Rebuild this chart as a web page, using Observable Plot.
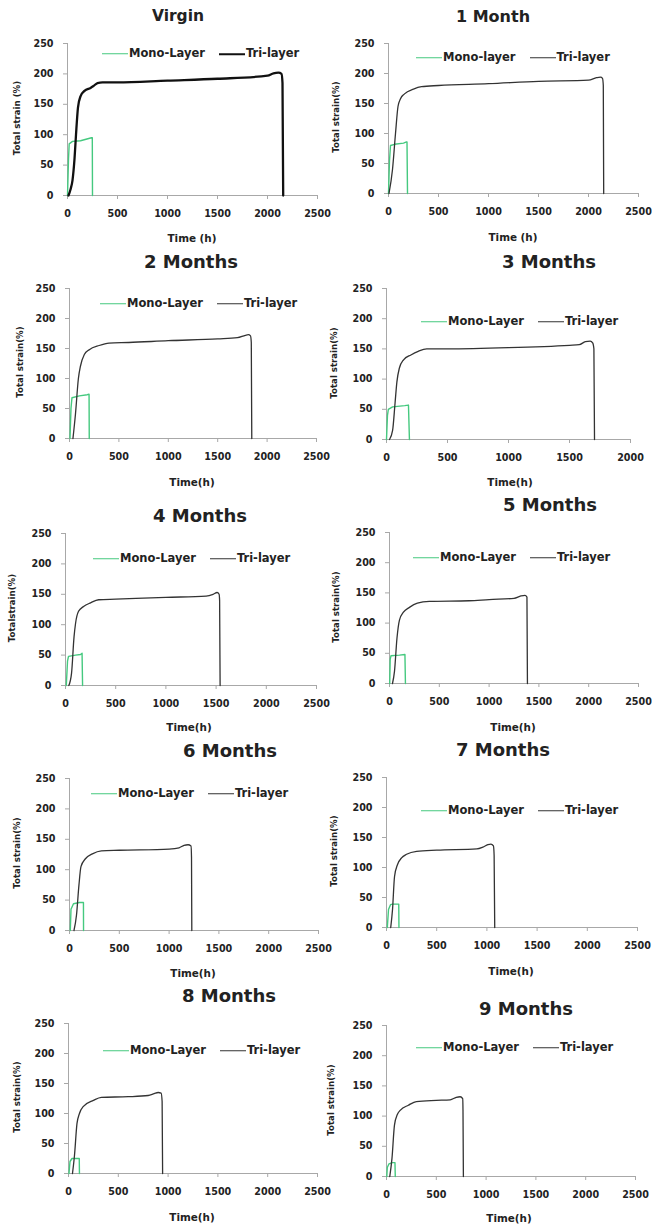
<!DOCTYPE html>
<html>
<head>
<meta charset="utf-8">
<script src="https://cdn.jsdelivr.net/npm/d3@7"></script>
<script src="https://cdn.jsdelivr.net/npm/@observablehq/plot@0.6"></script>
<style>
  body { margin: 0; background: #fff; }
  #chart { position: relative; width: 652px; height: 1224px; overflow: hidden;
           font-family: "DejaVu Sans", sans-serif; color: #222; }
  .panel { position: absolute; }
  .panel svg { background: transparent; overflow: visible; }
  .txt { position: absolute; white-space: nowrap; font-weight: bold; line-height: 1;
         transform: translate(-50%, -50%); }
  .ylab { position: absolute; white-space: nowrap; font-weight: bold; line-height: 1;
          transform: translate(-50%, -50%) rotate(-90deg); font-size: 8.6px; }
  .legend { position: absolute; display: flex; align-items: center; white-space: nowrap;
            font-weight: bold; font-size: 11.5px; transform: translateY(-50%); line-height: 1; }
  .legend .sw { display: inline-block; width: 26px; height: 0; margin-right: 1px; }
  .legend .gap { display: inline-block; width: 14px; }
</style>
</head>
<body>
<div id="chart"></div>
<script>
// Creep curves: total strain (%) against time (h), mono-layer vs tri-layer, by ageing time.
const panelTitles = ["Virgin", "1 Month", "2 Months", "3 Months", "4 Months",
                     "5 Months", "6 Months", "7 Months", "8 Months", "9 Months"];
const monoNames = ["Mono-Layer", "Mono-layer", "Mono-Layer", "Mono-Layer", "Mono-Layer",
                   "Mono-Layer", "Mono-Layer", "Mono-Layer", "Mono-Layer", "Mono-Layer"];
const triName = "Tri-layer";
const xTitles = ["Time (h)", "Time (h)", "Time(h)", "Time(h)", "Time(h)",
                 "Time(h)", "Time(h)", "Time(h)", "Time(h)", "Time(h)"];
const yTitles = ["Total strain (%)", "Total strain(%)", "Total strain(%)", "Total strain(%)", "Totalstrain(%)",
                 "Total strain(%)", "Total strain(%)", "Total strain(%)", "Total strain(%)", "Total strain(%)"];
const xMaxes = [2500, 2500, 2500, 2000, 2500, 2500, 2500, 2500, 2500, 2500];
const yTicks = [0, 50, 100, 150, 200, 250];
const xTicksLong = [0, 500, 1000, 1500, 2000, 2500];
const xTicksShort = [0, 500, 1000, 1500, 2000];

// [time (h), total strain (%)]
const virginMono = [[0,0],[10,60],[17,85],[50,89],[130,90],[240,95],[248,95],[250,0]];
const virginTri = [[10,0],[30,10],[50,25],[70,60],[85,100],[105,145],[130,163],[170,172],[230,177],
  [260,180],[300,185],[350,186],[500,186],[1000,189],[1500,192],[2000,197],[2060,201],[2110,202],
  [2140,200],[2150,185],[2157,0]];
const m1Mono = [[0,0],[10,55],[20,80],[60,82],[150,84],[180,86],[185,86],[190,0]];
const m1Tri = [[5,0],[40,40],[70,100],[95,145],[120,158],[160,166],[250,174],[330,178],[500,180],
  [1000,183],[1500,187],[2000,189],[2080,193],[2120,194],[2140,192],[2148,180],[2152,0]];
const m2Mono = [[5,0],[15,50],[25,68],[100,71],[180,73],[198,74],[200,0]];
const m2Tri = [[35,0],[60,40],[90,100],[110,120],[150,140],[200,148],[300,155],[400,159],[600,160],
  [1000,163],[1500,166],[1700,168],[1780,172],[1810,173],[1832,171],[1840,160],[1845,0]];
const m3Mono = [[0,0],[8,40],[15,50],[50,54],[150,56],[180,57],[188,0]];
const m3Tri = [[25,0],[50,15],[70,60],[85,95],[105,118],[140,132],[200,140],[260,146],[330,150],
  [500,150],[1000,152],[1500,156],[1580,157],[1630,162],[1670,163],[1690,160],[1700,150],[1705,0]];
const m4Mono = [[8,0],[20,40],[30,48],[100,50],[150,51],[165,53],[170,0]];
const m4Tri = [[33,0],[60,20],[85,80],[100,102],[130,122],[180,130],[250,136],[330,141],[500,142],
  [1000,145],[1400,147],[1470,150],[1510,153],[1530,150],[1535,140],[1540,0]];
const m5Mono = [[2,0],[7,40],[15,46],[100,47],[155,48],[160,0]];
const m5Tri = [[30,0],[50,20],[75,75],[100,105],[140,118],[200,126],[280,133],[400,136],[800,137],
  [1000,139],[1250,141],[1320,145],[1360,146],[1380,143],[1385,0]];
const m6Mono = [[8,0],[15,35],[40,44],[100,46],[140,46],[141,0]];
const m6Tri = [[45,0],[70,25],[95,75],[115,105],[160,118],[230,126],[320,131],[500,132],[1000,134],
  [1100,136],[1150,140],[1190,141],[1220,139],[1225,120],[1228,0]];
const m7Mono = [[8,0],[20,30],[40,38],[60,39],[122,39],[124,0]];
const m7Tri = [[42,0],[60,30],[80,85],[110,105],[150,116],[200,122],[300,127],[500,129],[900,131],
  [960,134],[1010,138],[1040,139],[1065,136],[1072,120],[1078,0]];
const m8Mono = [[5,0],[15,20],[35,25],[80,25],[108,25],[110,0]];
const m8Tri = [[40,0],[60,30],[85,83],[110,100],[150,112],[250,122],[330,127],[600,128],[800,130],
  [860,133],[900,135],[930,134],[940,120],[945,0]];
const m9Mono = [[3,0],[8,15],[25,21],[60,23],[85,23],[88,0]];
const m9Tri = [[33,0],[55,30],[80,85],[110,103],[140,110],[220,118],[300,124],[500,126],[640,127],
  [700,131],[740,132],[765,129],[768,110],[772,0]];

const monoSeries = [virginMono, m1Mono, m2Mono, m3Mono, m4Mono, m5Mono, m6Mono, m7Mono, m8Mono, m9Mono];
const triSeries = [virginTri, m1Tri, m2Tri, m3Tri, m4Tri, m5Tri, m6Tri, m7Tri, m8Tri, m9Tri];

const GREEN = "#45c97f";
const AXIS = "#a8a8a8";
const W = 326, H = 245;

// Page layout of each panel: frame edges (x at 0 and at the max, y at 0 and 250),
// title centre, x-title centre, y-title x, legend start.
const frames = [
  {x0: 67,  x1: 317, y0: 195,  y1: 43,   title: [178, 17],   tSize: 15.5, xt: [192, 238],  yt: 17,  lg: [102, 54]},
  {x0: 388, x1: 638, y0: 193,  y1: 43,   title: [493, 17],   tSize: 16,   xt: [513, 237],  yt: 336, lg: [416, 58]},
  {x0: 69,  x1: 316, y0: 438,  y1: 288,  title: [191, 262],  tSize: 18,   xt: [192, 482],  yt: 20,  lg: [100, 304]},
  {x0: 386, x1: 630, y0: 439,  y1: 288,  title: [549, 262],  tSize: 18,   xt: [510, 482],  yt: 334, lg: [421, 322]},
  {x0: 65,  x1: 316, y0: 685,  y1: 533,  title: [200, 516],  tSize: 18,   xt: [189, 727],  yt: 12,  lg: [93, 559]},
  {x0: 389, x1: 638, y0: 683,  y1: 532,  title: [550, 505],  tSize: 18,   xt: [513, 727],  yt: 336, lg: [413, 558]},
  {x0: 69,  x1: 318, y0: 930,  y1: 778,  title: [230, 751],  tSize: 18,   xt: [193, 973],  yt: 17,  lg: [91, 794]},
  {x0: 386, x1: 637, y0: 927,  y1: 777,  title: [503, 750],  tSize: 18,   xt: [511, 971],  yt: 334, lg: [421, 811]},
  {x0: 68,  x1: 317, y0: 1173, y1: 1023, title: [229, 996],  tSize: 18,   xt: [192, 1217], yt: 17,  lg: [103, 1051]},
  {x0: 386, x1: 635, y0: 1176, y1: 1025, title: [526, 1009], tSize: 18,   xt: [509, 1218], yt: 331, lg: [416, 1048]}
];

const chart = document.getElementById("chart");
const toRows = (arr) => arr.map(([t, s]) => ({t, s}));
const plain = (d) => String(d);

function addText(cls, x, y, text, size) {
  const el = document.createElement("div");
  el.className = cls;
  el.style.left = x + "px";
  el.style.top = y + "px";
  if (size) el.style.fontSize = size + "px";
  el.textContent = text;
  chart.appendChild(el);
  return el;
}

frames.forEach((f, i) => {
  const col = i % 2, row = Math.floor(i / 2);
  const left = col * W, top = row * H;
  const xMax = xMaxes[i];
  const thick = i === 0;

  const svg = Plot.plot({
    width: W,
    height: H,
    marginLeft: f.x0 - left,
    marginRight: left + W - f.x1,
    marginTop: f.y1 - top,
    marginBottom: top + H - f.y0,
    x: {domain: [0, xMax]},
    y: {domain: [0, 250]},
    style: {fontFamily: '"DejaVu Sans", sans-serif', fontSize: "9.6px", fontWeight: "bold",
            color: "#222", background: "transparent", overflow: "visible"},
    marks: [
      Plot.axisX({ticks: xMax === 2000 ? xTicksShort : xTicksLong, tickFormat: plain, tickSize: 4,
                  tickPadding: 11, stroke: AXIS, fill: "#222", label: null}),
      Plot.axisY({ticks: yTicks, tickFormat: plain, tickSize: 4, tickPadding: 10,
                  stroke: AXIS, fill: "#222", label: null}),
      Plot.ruleY([0], {stroke: AXIS}),
      Plot.ruleX([0], {stroke: AXIS}),
      Plot.line(toRows(monoSeries[i]), {x: "t", y: "s", stroke: GREEN, strokeWidth: 1.4}),
      Plot.line(toRows(triSeries[i]), {x: "t", y: "s", stroke: thick ? "#111" : "#333",
                strokeWidth: thick ? 2.3 : 1.3, curve: "monotone-x"})
    ]
  });
  const holder = document.createElement("div");
  holder.className = "panel";
  holder.style.left = left + "px";
  holder.style.top = top + "px";
  holder.appendChild(svg);
  chart.appendChild(holder);

  addText("txt", f.title[0], f.title[1], panelTitles[i], f.tSize);
  addText("txt", f.xt[0], f.xt[1], xTitles[i], 10.4);
  addText("ylab", f.yt, (f.y0 + f.y1) / 2 - 1, yTitles[i]);

  const lg = document.createElement("div");
  lg.className = "legend";
  lg.style.left = f.lg[0] + "px";
  lg.style.top = f.lg[1] + "px";
  const sw1 = document.createElement("span");
  sw1.className = "sw";
  sw1.style.borderTop = `1.5px solid ${GREEN}`;
  const t1 = document.createElement("span");
  t1.textContent = monoNames[i];
  const gap = document.createElement("span");
  gap.className = "gap";
  const sw2 = document.createElement("span");
  sw2.className = "sw";
  sw2.style.borderTop = thick ? "2.3px solid #111" : "1.4px solid #333";
  const t2 = document.createElement("span");
  t2.textContent = triName;
  lg.append(sw1, t1, gap, sw2, t2);
  chart.appendChild(lg);
});
</script>
</body>
</html>
